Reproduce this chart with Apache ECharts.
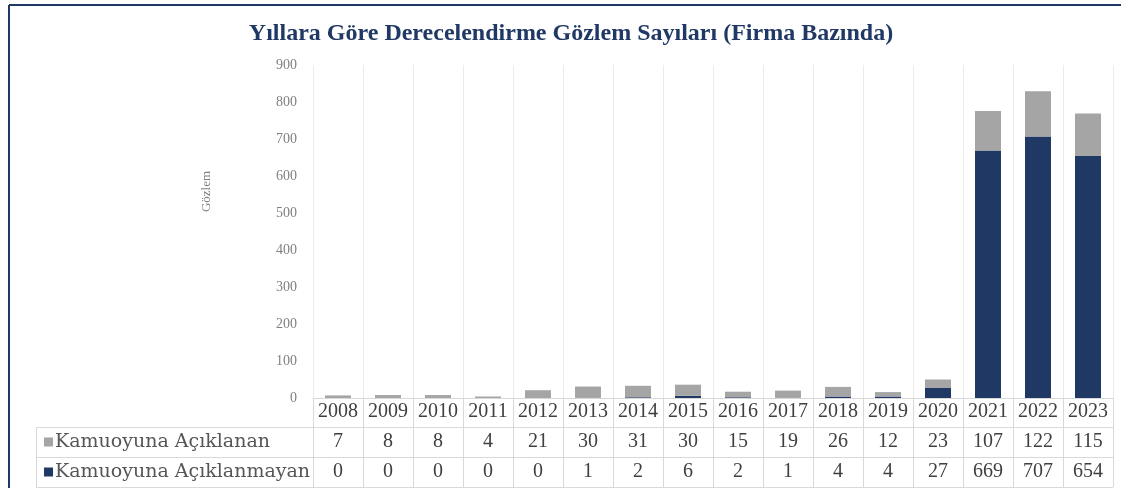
<!DOCTYPE html>
<html>
<head>
<meta charset="utf-8">
<script src="https://cdn.jsdelivr.net/npm/echarts@6/dist/echarts.min.js"></script>
<style>
html,body{margin:0;padding:0;background:#fff;}
#main{width:1121px;height:488px;}
</style>
</head>
<body>
<div id="main"></div>
<script>
const titleText = 'Yıllara Göre Derecelendirme Gözlem Sayıları (Firma Bazında)';
const years = ['2008','2009','2010','2011','2012','2013','2014','2015','2016','2017','2018','2019','2020','2021','2022','2023'];
const seriesAcik = 'Kamuoyuna Açıklanan';
const seriesKapali = 'Kamuoyuna Açıklanmayan';
const acik = [7, 8, 8, 4, 21, 30, 31, 30, 15, 19, 26, 12, 23, 107, 122, 115];
const kapali = [0, 0, 0, 0, 0, 1, 2, 6, 2, 1, 4, 4, 27, 669, 707, 654];
const yTicks = [0, 100, 200, 300, 400, 500, 600, 700, 800, 900];

const serif = '"Liberation Serif", "DejaVu Serif", serif';
const wideSerif = '"DejaVu Serif", "Liberation Serif", serif';
const navy = '#203864';
const grey = '#a5a5a5';
const txt = '#3f3f3f';
const lineC = '#d9d9d9';

const chart = echarts.init(document.getElementById('main'), null, {renderer: 'canvas'});

const L = 313, R = 1113, T = 65, B = 398;
const rowLines = [427, 457, 487];

const graphics = [
  {type: 'line', shape: {x1: 9, y1: 5, x2: 1121, y2: 5}, style: {stroke: navy, lineWidth: 2}},
  {type: 'line', shape: {x1: 9, y1: 5, x2: 9, y2: 488}, style: {stroke: navy, lineWidth: 2}},
  {type: 'line', shape: {x1: 36.5, y1: 427, x2: 36.5, y2: 487}, style: {stroke: lineC, lineWidth: 1}}
];
rowLines.forEach(y => graphics.push({type: 'line', shape: {x1: 36, y1: y + 0.5, x2: R, y2: y + 0.5}, style: {stroke: lineC, lineWidth: 1}}));

const rowAxis = (vals, offset) => ({
  type: 'category', data: years, gridIndex: 0, position: 'bottom', offset: offset,
  boundaryGap: true,
  axisLine: {show: false}, axisTick: {show: false}, splitLine: {show: false},
  axisLabel: {
    interval: 0, margin: 15, verticalAlign: 'middle',
    fontFamily: serif, fontSize: 20, color: txt,
    formatter: (v, i) => String(vals[i])
  }
});

const legendItem = (name, top) => ({
  data: [name], orient: 'vertical', left: 39, top: top,
  itemWidth: 9, itemHeight: 9, icon: 'rect', padding: 5,
  textStyle: {fontFamily: wideSerif, fontSize: 19, color: '#555555', lineHeight: 20, padding: [0, 0, 0, -3]},
  selectedMode: false
});

chart.setOption({
  animation: false,
  backgroundColor: '#fff',
  title: {
    text: titleText, left: 566, top: 17, textAlign: 'center',
    textStyle: {fontFamily: serif, fontSize: 24, fontWeight: 'bold', color: navy}
  },
  legend: [legendItem(seriesAcik, 427), legendItem(seriesKapali, 457)],
  grid: {left: L, right: 1121 - R, top: T, bottom: 488 - B, containLabel: false},
  xAxis: [
    {
      type: 'category', data: years, boundaryGap: true,
      axisLine: {show: true, lineStyle: {color: lineC, width: 1}},
      axisTick: {show: true, length: 89, interval: 0, lineStyle: {color: lineC}},
      splitLine: {show: true, interval: 0, lineStyle: {color: '#ebebeb', width: 1}},
      axisLabel: {interval: 0, margin: 14, verticalAlign: 'middle', fontFamily: serif, fontSize: 20, color: txt}
    },
    rowAxis(acik, 29),
    rowAxis(kapali, 59)
  ],
  yAxis: {
    type: 'value', min: 0, max: 900, interval: 100,
    name: 'Gözlem', nameLocation: 'middle', nameGap: 100, nameRotate: 90,
    nameTextStyle: {fontFamily: serif, fontSize: 13, color: '#7f7f7f', padding: [0, 0, 0, 80]},
    axisLine: {show: false}, axisTick: {show: false}, splitLine: {show: false},
    axisLabel: {margin: 16, fontFamily: serif, fontSize: 14, color: '#808080',
      formatter: v => yTicks.includes(v) ? String(v) : ''}
  },
  series: [
    {name: seriesKapali, type: 'bar', stack: 'total', data: kapali, barWidth: '52%', itemStyle: {color: navy}},
    {name: seriesAcik, type: 'bar', stack: 'total', data: acik, barWidth: '52%', itemStyle: {color: grey}}
  ],
  graphic: graphics
});
</script>
</body>
</html>
